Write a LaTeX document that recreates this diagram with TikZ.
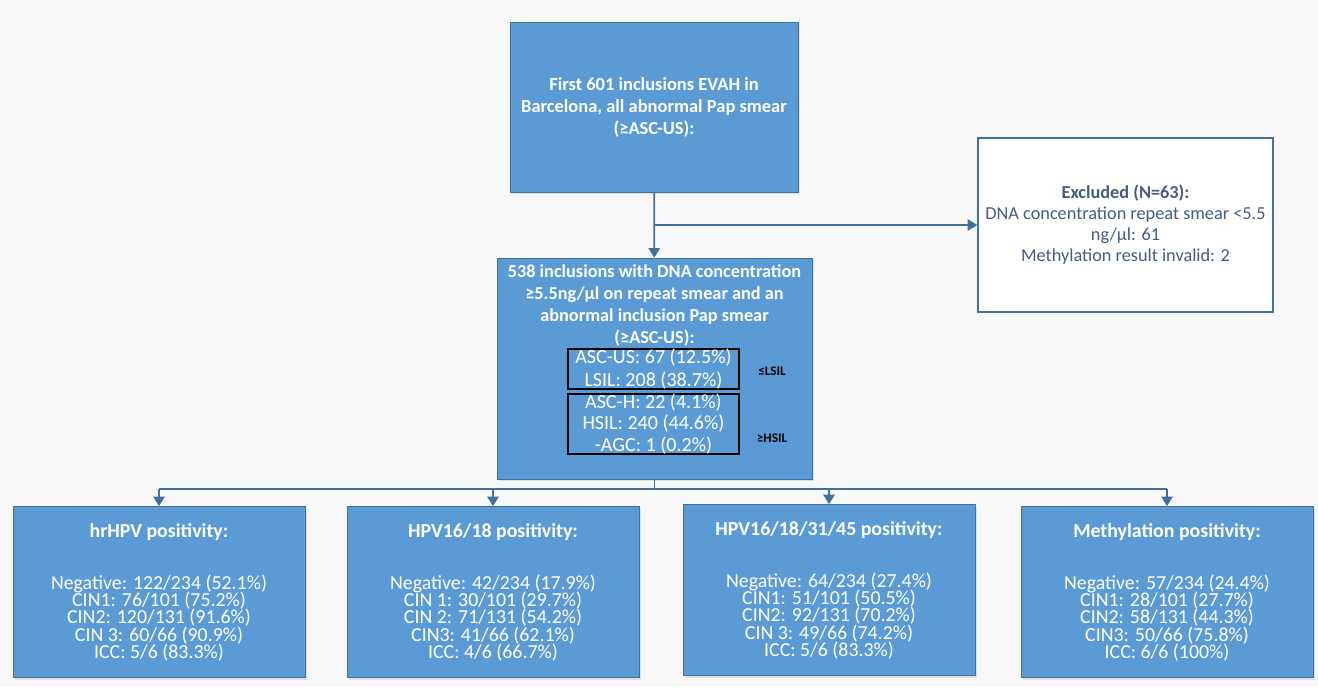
\documentclass[tikz,border=0pt]{standalone}
\usepackage{fontspec}
\setmainfont{Carlito}
\usepackage{tikz}
\usetikzlibrary{arrows.meta,shadows}
\definecolor{boxblue}{RGB}{91,155,213}
\definecolor{lineblue}{RGB}{65,113,156}
\definecolor{exclblue}{RGB}{66,94,132}
\definecolor{pagebg}{RGB}{247,247,247}
\newcommand\resultfont{\fontsize{11.3}{9.8}\selectfont\lineskiplimit=-10pt\relax}

\begin{document}
\begin{tikzpicture}[x=0.02cm,y=-0.02cm,
  bluebox/.style={draw=lineblue,fill=boxblue,text=white,align=center,inner sep=2pt,
    drop shadow={opacity=.2,shadow xshift=1.2pt,shadow yshift=-1.2pt}},
  resultbox/.style={bluebox,minimum width=5.84cm,minimum height=3.42cm,font=\resultfont},
  exclbox/.style={draw=lineblue,line width=.8pt,fill=white,text=exclblue,align=center,
    minimum width=5.9cm,minimum height=3.48cm,font=\fontsize{10.4}{12}\selectfont},
  subbox/.style={draw=black,line width=1.1pt,minimum width=3.42cm,align=center,text=white,inner sep=0pt},
  grouplab/.style={font=\bfseries\fontsize{7.5}{8}\selectfont},
  flowline/.style={draw=lineblue,line width=1pt},
  flow/.style={flowline,-{Triangle[width=6.5pt,length=5.5pt]}}]
\fill[pagebg] (0,0) rectangle (1318,687);

\node[bluebox,minimum width=5.76cm,minimum height=3.4cm,font=\bfseries\fontsize{10.5}{12.5}\selectfont]
  (first) at (654,107) {First 601 inclusions EVAH in\\Barcelona, all abnormal Pap smear\\(≥ASC-US):};
\node[exclbox] (excl) at (1125.5,225) {\textbf{Excluded (N=63):}\\DNA concentration repeat smear <5.5\\ng/µl: 61\\Methylation result invalid: 2};

\node[bluebox,minimum width=6.3cm,minimum height=4.42cm] (incl) at (654.5,368.5) {};
\node[text=white,align=center,font=\bfseries\fontsize{10.4}{12.5}\selectfont] (incltext) at (654.5,305.5)
  {538 inclusions with DNA concentration\\≥5.5ng/µl on repeat smear and an\\abnormal inclusion Pap smear\\(≥ASC-US):};
\node[subbox,minimum height=0.8cm,font=\fontsize{11.4}{13}\selectfont] (lowgrade) at (653.5,369)
  {ASC-US: 67 (12.5\%)\\LSIL: 208 (38.7\%)};
\node[subbox,minimum height=1.16cm,font=\fontsize{11.4}{12}\selectfont] (highgrade) at (653.5,424)
  {ASC-H: 22 (4.1\%)\\HSIL: 240 (44.6\%)\\-AGC: 1 (0.2\%)};
\node[grouplab] (lowlab) at (772,371) {≤LSIL};
\node[grouplab] (highlab) at (772,438) {≥HSIL};

\node[resultbox] (hr) at (159,592) {\textbf{hrHPV positivity:}\\[20pt]Negative: 122/234 (52.1\%)\\CIN1: 76/101 (75.2\%)\\CIN2: 120/131 (91.6\%)\\CIN 3: 60/66 (90.9\%)\\ICC: 5/6 (83.3\%)};
\node[resultbox] (hpvtwo) at (493,592) {\textbf{HPV16/18 positivity:}\\[20pt]Negative: 42/234 (17.9\%)\\CIN 1: 30/101 (29.7\%)\\CIN 2: 71/131 (54.2\%)\\CIN3: 41/66 (62.1\%)\\ICC: 4/6 (66.7\%)};
\node[resultbox] (hpvfour) at (829,590) {\textbf{HPV16/18/31/45 positivity:}\\[20pt]Negative: 64/234 (27.4\%)\\CIN1: 51/101 (50.5\%)\\CIN2: 92/131 (70.2\%)\\CIN 3: 49/66 (74.2\%)\\ICC: 5/6 (83.3\%)};
\node[resultbox] (meth) at (1167,592) {\textbf{Methylation positivity:}\\[20pt]Negative: 57/234 (24.4\%)\\CIN1: 28/101 (27.7\%)\\CIN2: 58/131 (44.3\%)\\CIN3: 50/66 (75.8\%)\\ICC: 6/6 (100\%)};

\draw[flow] (first) -- (incl);
\draw[flow] (first.south |- excl.west) -- (excl.west);
\draw[flowline] (incl.south) -- ++(0,10) coordinate (split);
\draw[flowline] (split -| hr.north) -- (split -| meth.north);
\foreach \b in {hr,hpvtwo,hpvfour,meth}
  \draw[flow] (split -| \b.north) -- (\b.north);
\end{tikzpicture}
\end{document}
